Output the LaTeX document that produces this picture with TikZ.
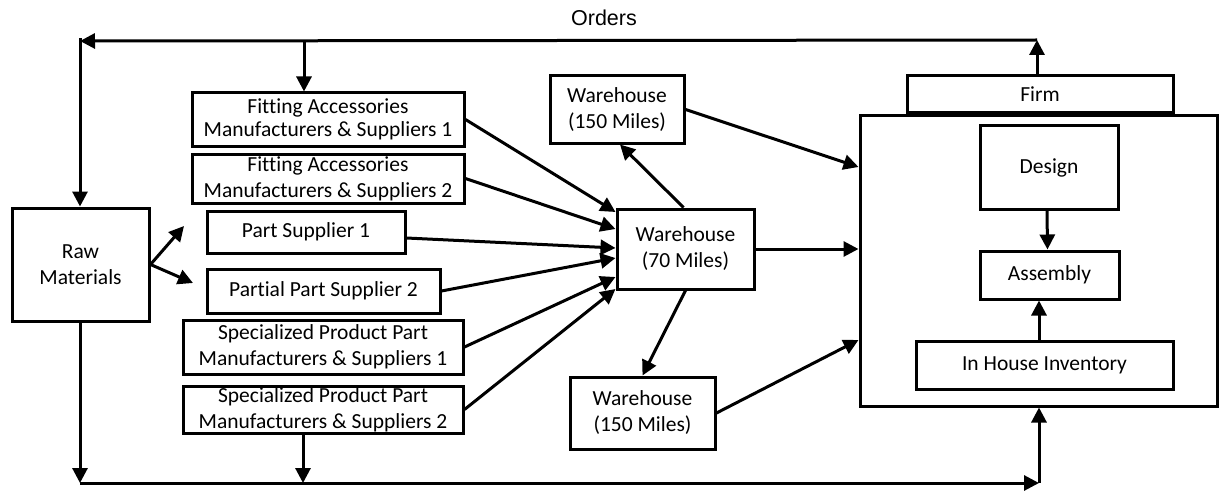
\documentclass[tikz,border=0pt]{standalone}
\usepackage{fontspec}
\setmainfont{Carlito}[Ligatures=NoCommon]
\newfontfamily\arialfont{Liberation Sans}
\usetikzlibrary{arrows.meta,calc}
\begin{document}
\begin{tikzpicture}[x=1pt,y=-1pt,
  box/.style={draw,line width=3pt,rectangle,inner sep=0pt,align=center,
    font=\fontsize{21.5}{26}\selectfont},
  arr/.style={line width=3pt,-{Triangle[length=15pt,width=15pt]}},
  ln/.style={line width=3pt}]
\useasboundingbox (0,0) rectangle (1220,492);

% label
\node[font=\arialfont\fontsize{21.5}{26}\selectfont] (orders) at (604,18) {Orders};

% left column
\node[box,minimum width=137pt,minimum height=113pt] (raw) at (80.5,264.5) {Raw\\Materials};
\node[box,minimum width=272pt,minimum height=53pt,font=\fontsize{21.5}{22.5}\selectfont] (fit1) at (328,119.5) {Fitting Accessories\\Manufacturers \& Suppliers 1};
\node[box,minimum width=272pt,minimum height=49pt] (fit2) at (328,178.5) {Fitting Accessories\\Manufacturers \& Suppliers 2};
\node[box,minimum width=198pt,minimum height=42pt] (ps1) at (306,232) {Part Supplier 1};
\node[box,minimum width=233pt,minimum height=44pt] (pps2) at (323.5,291) {Partial Part Supplier 2};
\node[box,minimum width=280pt,minimum height=54pt] (spec1) at (323,347) {Specialized Product Part\\Manufacturers \& Suppliers 1};
\node[box,minimum width=280pt,minimum height=47pt] (spec2) at (323,409.5) {Specialized Product Part\\Manufacturers \& Suppliers 2};

% warehouses
\node[box,minimum width=134pt,minimum height=67pt] (w150t) at (617,109.5) {Warehouse\\(150 Miles)};
\node[box,minimum width=137pt,minimum height=80pt] (w70) at (685.5,249) {Warehouse\\(70 Miles)};
\node[box,minimum width=145pt,minimum height=72pt] (w150b) at (642.5,413) {Warehouse\\(150 Miles)};

% firm
\node[box,minimum width=357pt,minimum height=290pt] (big) at (1038.5,261) {};
\node[box,minimum width=266pt,minimum height=37pt] (firm) at (1040,94.5) {Firm};
\node[box,minimum width=138pt,minimum height=83pt] (design) at (1049,167.5) {Design};
\node[box,minimum width=139pt,minimum height=48pt] (assembly) at (1049.5,275) {Assembly};
\node[box,minimum width=257pt,minimum height=48pt] (inhouse) at (1044.5,365) {In House Inventory};

% helper coordinates
\coordinate (otr) at (1037,40);
\coordinate (otl) at (80,41);
\coordinate (otm) at (304,41);
\coordinate (bl) at (80,483);
\coordinate (bm) at (303,483);
\coordinate (br) at (1039,483);
\coordinate (ra1) at (184,226);
\coordinate (ra2) at (193,283);

% orders loop
\draw[arr] ([xshift=-3pt]firm.north) -- (otr);
\draw[arr] (otr) -- (otl);
\draw[ln] (otl) -- ++(0,-3);
\draw[arr] (otl) -- (otl |- raw.north);
\draw[arr] (otm) -- (otm |- fit1.north);

% raw material arrows
\draw[arr] (raw.east) -- (ra1);
\draw[arr] (raw.east) -- (ra2);

% bottom loop
\draw[arr] (raw.south -| bl) -- (bl);
\draw[arr] (bm |- spec2.south) -- (bm);
\draw[arr] (bl) -- (br);
\draw[arr] (br) -- (br |- big.south);

% suppliers to warehouse 70
\draw[arr] (fit1.east) -- ([yshift=37pt]w70.west);
\draw[arr] (fit2.east) -- ([yshift=20pt]w70.west);
\draw[arr] ([yshift=-6pt]ps1.east) -- ([yshift=1pt]w70.west);
\draw[arr] (pps2.east) -- ([yshift=-9pt]w70.west);
\draw[arr] (spec1.east) -- ([yshift=-28pt]w70.west);
\draw[arr] (spec2.east) -- ([yshift=-40pt]w70.west);

% warehouse links
\draw[arr] ([xshift=-2pt]w70.north) -- ([xshift=3pt]w150t.south);
\draw[arr] (w70.south) -- (w150b.north);
\draw[arr] (w70.east) -- ([yshift=12pt]big.west);
\draw[arr] (w150t.east) -- ([yshift=94pt]big.west);
\draw[arr] (w150b.east) -- ([yshift=-79pt]big.west);

% inside firm
\draw[arr] ([xshift=-2pt]design.south) -- ([xshift=-2pt]assembly.north);
\draw[arr] ([xshift=-5.5pt]inhouse.north) -- ([xshift=-10.5pt]assembly.south);
\end{tikzpicture}
\end{document}
